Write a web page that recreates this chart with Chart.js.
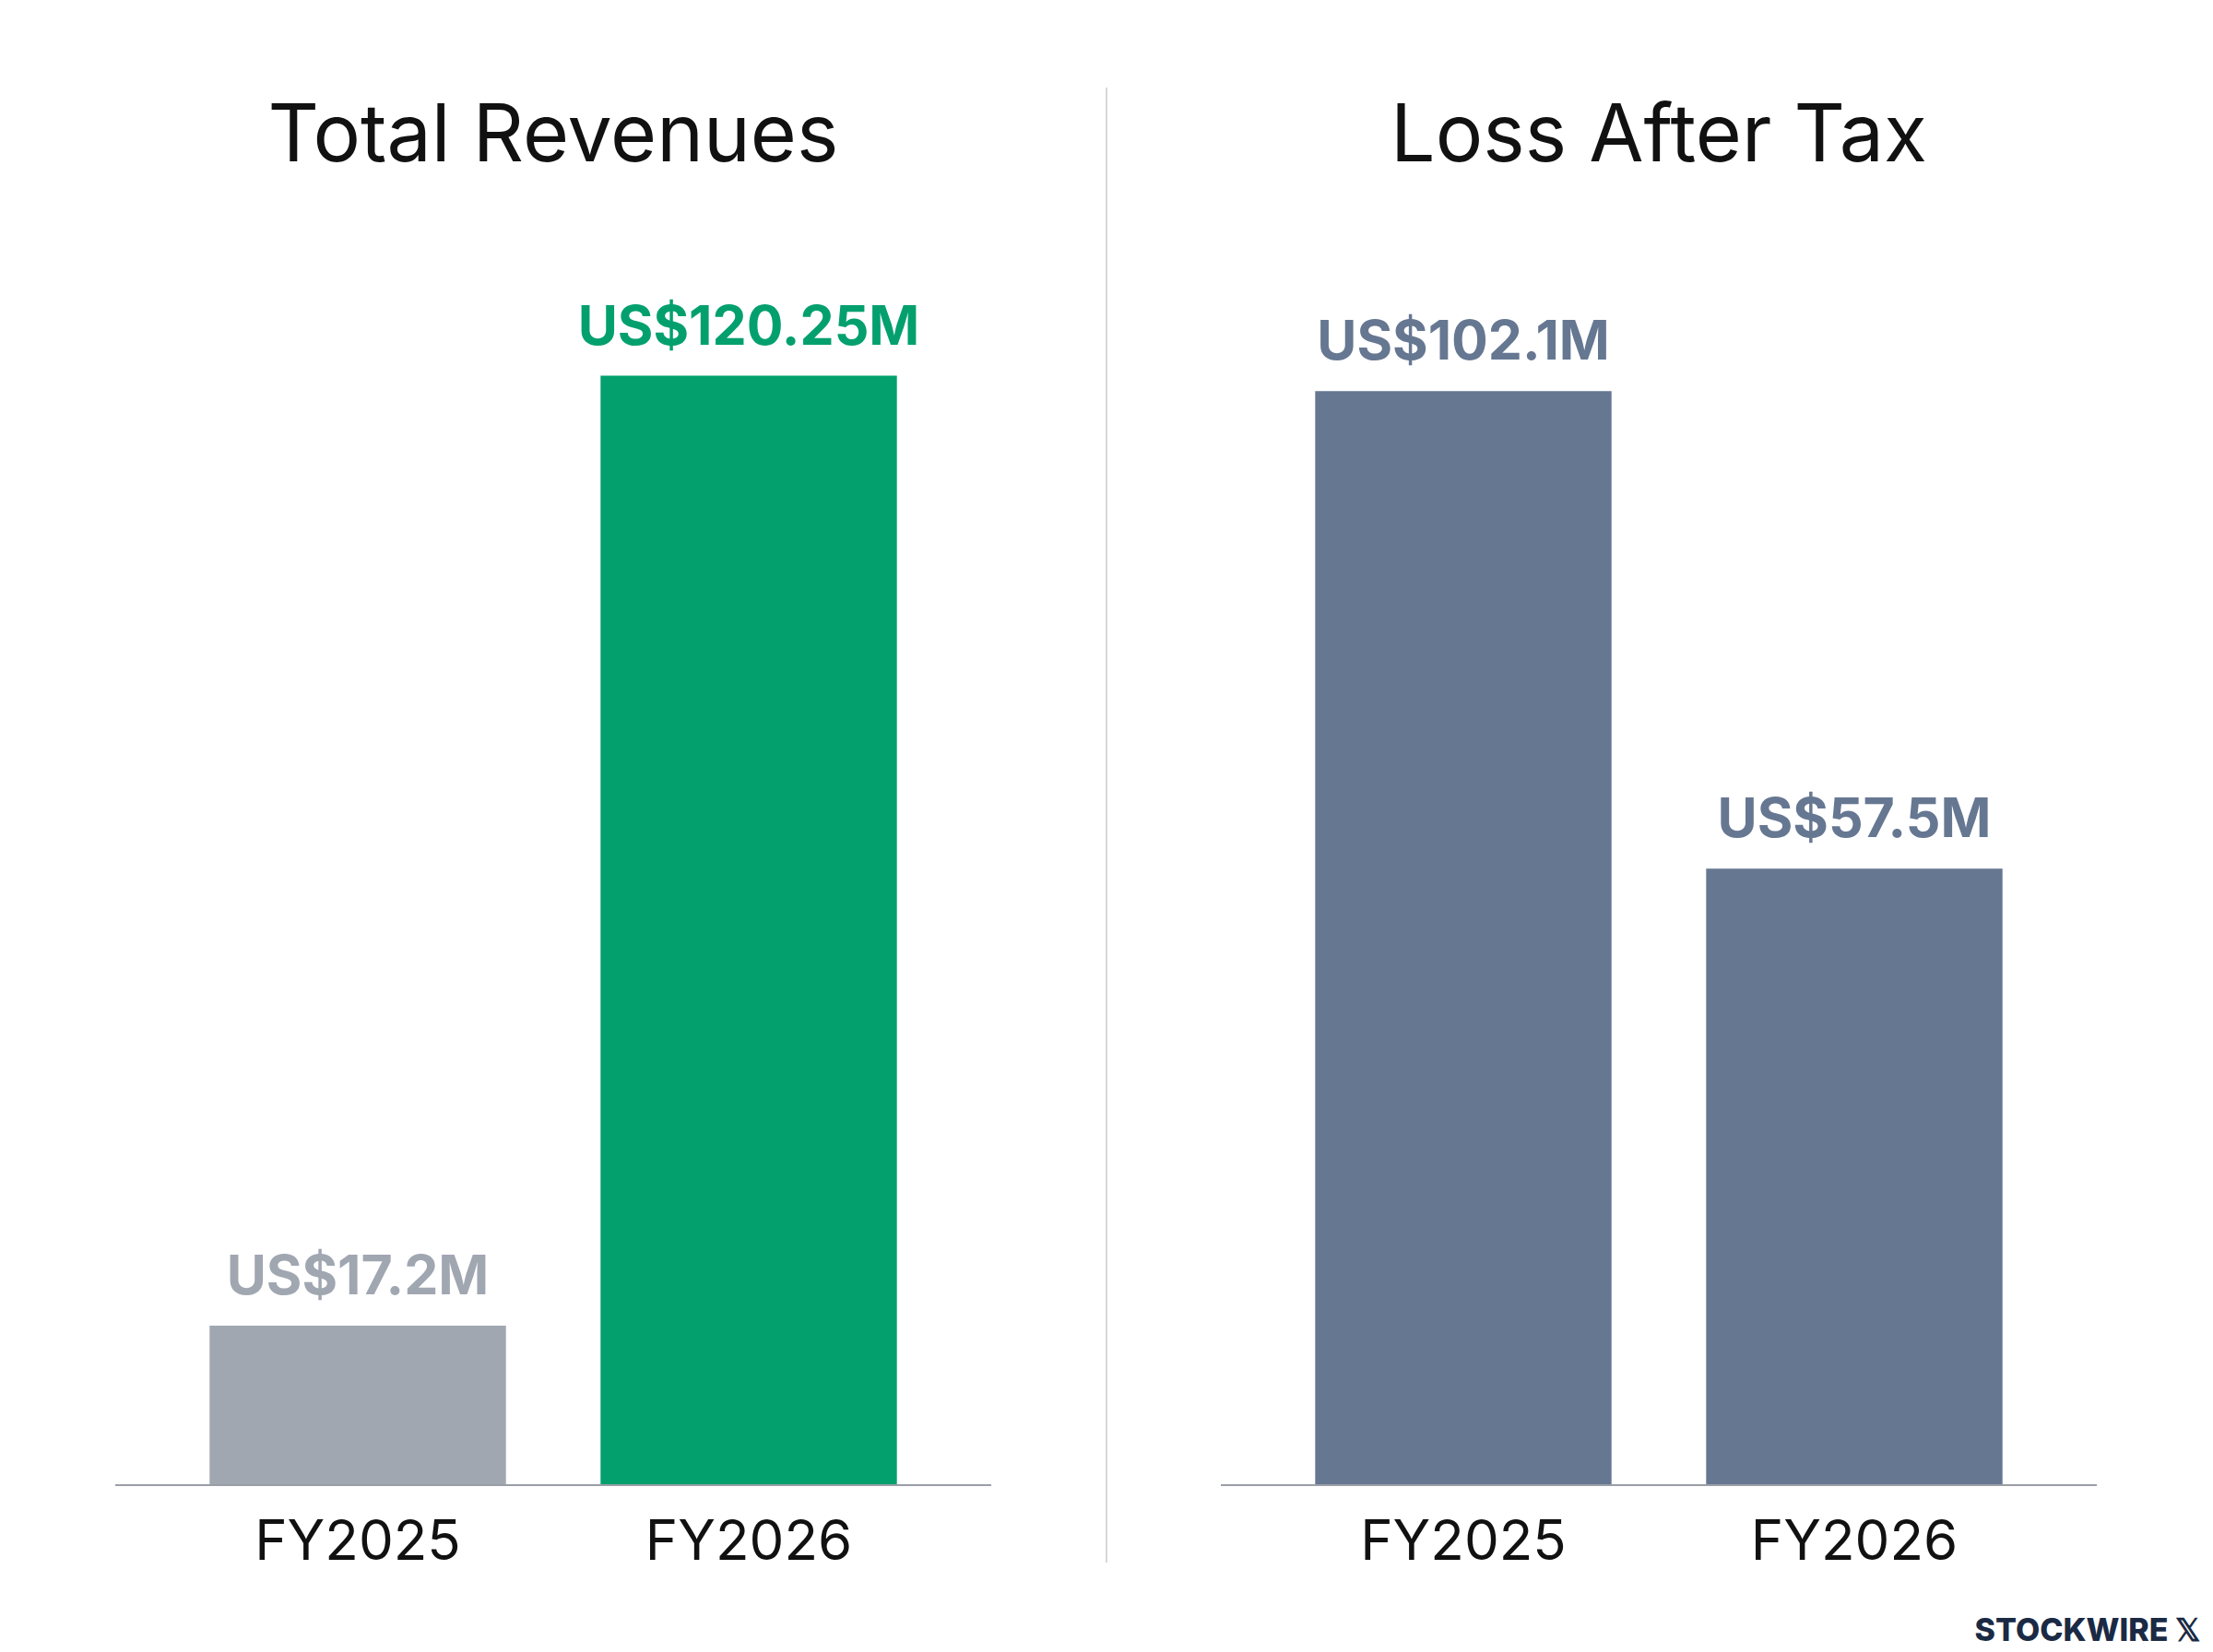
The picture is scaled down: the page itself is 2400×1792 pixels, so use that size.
<!DOCTYPE html>
<html><head><meta charset="utf-8">
<script src="https://cdn.jsdelivr.net/npm/chart.js@4"></script>
<style>
body{margin:0;background:#fff;width:2400px;height:1792px;position:relative;overflow:hidden;font-family:Inter,"Noto Sans",sans-serif}
.t{position:absolute;top:92px;font-size:86px;color:#111;text-align:center;width:950px}
canvas{position:absolute;top:0}
#div{position:absolute;left:1199px;top:95px;width:2px;height:1600px;background:#d6d8dc}
#logo{position:absolute;right:14px;bottom:4px;font-size:34px;font-weight:800;color:#1b2a44;letter-spacing:0}
</style></head><body>
<div class="t" style="left:125px">Total Revenues</div>
<div class="t" style="left:1324px">Loss After Tax</div>
<div id="div"></div>
<canvas id="c1" width="950" height="1738" style="left:125px"></canvas>
<canvas id="c2" width="950" height="1738" style="left:1324px"></canvas>
<div id="logo">STOCKWIRE 𝕏</div>
<script>
const years = ["FY2025", "FY2026"];
const revenues = [17.2, 120.25];
const revenueLabels = ["US$17.2M", "US$120.25M"];
const losses = [102.1, 57.5];
const lossLabels = ["US$102.1M", "US$57.5M"];

// value labels above bars + baseline spanning whole canvas
const valueLabels = {
  id: "valueLabels",
  afterDatasetsDraw(chart, args, opts) {
    const ctx = chart.ctx;
    const meta = chart.getDatasetMeta(0);
    ctx.save();
    ctx.strokeStyle = "#9a9ea6";
    ctx.lineWidth = 2;
    ctx.beginPath();
    ctx.moveTo(0, chart.chartArea.bottom + 1);
    ctx.lineTo(chart.width, chart.chartArea.bottom + 1);
    ctx.stroke();
    ctx.font = "bold 59px Inter, 'Noto Sans', sans-serif";
    ctx.textAlign = "center";
    ctx.textBaseline = "bottom";
    meta.data.forEach((bar, i) => {
      ctx.fillStyle = opts.colors[i];
      ctx.fillText(opts.labels[i], bar.x, bar.y - 22);
    });
    ctx.restore();
  }
};

function makeChart(id, values, labels, colors, max) {
  new Chart(document.getElementById(id), {
    type: "bar",
    data: { labels: years, datasets: [{ data: values, backgroundColor: colors, borderWidth: 0 }] },
    options: {
      responsive: false, animation: false, devicePixelRatio: 1,
      layout: { padding: { top: 300, left: 51, right: 51 } },
      plugins: { legend: { display: false }, tooltip: { enabled: false },
        valueLabels: { labels: labels, colors: colors } },
      datasets: { bar: { categoryPercentage: 1, barPercentage: 0.758 } },
      scales: {
        y: { display: false, min: 0, max: max },
        x: { grid: { display: false, drawTicks: false }, border: { display: false },
          ticks: { color: "#111", padding: 28, font: { size: 60, family: "Inter, 'Noto Sans', sans-serif" } } }
      }
    },
    plugins: [valueLabels]
  });
}
makeChart("c1", revenues, revenueLabels, ["#a0a7b1", "#03a06e"], 131);
makeChart("c2", losses, lossLabels, ["#667792", "#667792"], 112.8);
</script>
</body></html>
